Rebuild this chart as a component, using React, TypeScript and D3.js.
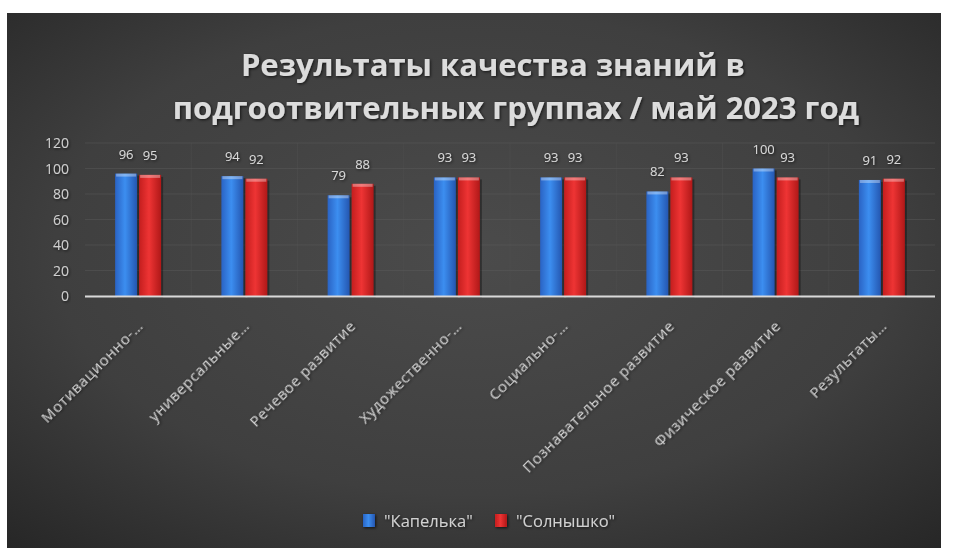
import React from "react";
import * as d3 from "d3";

const categories = [
  "Мотивационно-…",
  "универсальные…",
  "Речевое развитие",
  "Художественно-…",
  "Социально-…",
  "Познавательное развитие",
  "Физическое развитие",
  "Результаты…",
];
const seriesNames = ["\"Капелька\"", "\"Солнышко\""];
const kapelka = [96, 94, 79, 93, 93, 82, 100, 91];
const solnyshko = [95, 92, 88, 93, 93, 93, 93, 92];
const yTicks = [0, 20, 40, 60, 80, 100, 120];

const W = 953;
const H = 548;

export default function App() {
  const x = d3.scaleBand<string>().domain(categories).range([85, 935]);
  const y = d3.scaleLinear().domain([0, 120]).range([296, 143]);
  const barW = 22;
  const gap = 2;
  const series = [kapelka, solnyshko];
  const grads = ["gBlue", "gRed"];
  const font = "'Open Sans', 'DejaVu Sans', sans-serif";

  return (
    <div style={{ position: "absolute", left: 0, top: 0, background: "#fff" }}>
      <svg width={W} height={H} style={{ display: "block" }}>
        <defs>
          <radialGradient id="bg" cx="0.5" cy="0.45" r="0.75">
            <stop offset="0" stopColor="#4b4b4b" />
            <stop offset="0.6" stopColor="#3f3f3f" />
            <stop offset="1" stopColor="#262626" />
          </radialGradient>
          <linearGradient id="gBlue" x1="0" x2="1" y1="0" y2="0">
            <stop offset="0" stopColor="#2a63c4" />
            <stop offset="0.45" stopColor="#3c8ef0" />
            <stop offset="1" stopColor="#2456b0" />
          </linearGradient>
          <linearGradient id="gRed" x1="0" x2="1" y1="0" y2="0">
            <stop offset="0" stopColor="#c41e1e" />
            <stop offset="0.45" stopColor="#ee3434" />
            <stop offset="1" stopColor="#b01818" />
          </linearGradient>
          <filter id="glow" x="-20%" y="-20%" width="140%" height="140%">
            <feGaussianBlur in="SourceAlpha" stdDeviation="1.5" />
            <feOffset dx="1" dy="1" result="b" />
            <feFlood floodColor="#000" floodOpacity="0.7" />
            <feComposite in2="b" operator="in" />
            <feMerge>
              <feMergeNode />
              <feMergeNode in="SourceGraphic" />
            </feMerge>
          </filter>
        </defs>
        <rect x={0} y={0} width={W} height={H} fill="#fff" />
        <rect x={7} y={13} width={934} height={H - 13} fill="url(#bg)" />

        {/* Title */}
        <g filter="url(#glow)" fill="#dcdcdc" fontFamily={font} fontWeight="bold" fontSize={31} textAnchor="middle">
          <text x={493} y={76}>Результаты качества знаний в</text>
          <text x={516} y={119}>подгоотвительных группах / май 2023 год</text>
        </g>

        {/* gridlines */}
        {yTicks.map((t) => (
          <line key={"g" + t} x1={85} x2={935} y1={y(t)} y2={y(t)} stroke="#5a5a5a" strokeWidth={0.8} opacity={0.6} />
        ))}
        {categories.map((c, i) =>
          i === 0 ? null : (
            <line key={"v" + c} x1={x(c)!} x2={x(c)!} y1={143} y2={296} stroke="#555" strokeWidth={0.6} opacity={0.5} />
          )
        )}

        {/* y tick labels */}
        {yTicks.map((t) => (
          <text key={"t" + t} x={69} y={y(t) + 5} fill="#cfcfcf" fontFamily={font} fontSize={14} textAnchor="end" filter="url(#glow)">
            {t}
          </text>
        ))}

        {/* bars */}
        {categories.map((c, i) => {
          const cx = x(c)! + x.bandwidth() / 2;
          return series.map((s, k) => {
            const bx = k === 0 ? cx - gap / 2 - barW : cx + gap / 2;
            const top = y(s[i]);
            return (
              <g key={c + k}>
                <rect x={bx + 2} y={top + 2} width={barW} height={296 - top} fill="#000" opacity={0.35} />
                <rect x={bx} y={top} width={barW} height={296 - top} fill={`url(#${grads[k]})`} />
                <rect x={bx + 1} y={top} width={barW - 2} height={3} fill="#fff" opacity={0.35} />
                <text x={bx + barW / 2} y={top - 15} fill="#d8d8d8" fontFamily={font} fontSize={13} textAnchor="middle" filter="url(#glow)">
                  {s[i]}
                </text>
              </g>
            );
          });
        })}

        {/* axis line */}
        <line x1={85} x2={935} y1={296.5} y2={296.5} stroke="#d9d9d9" strokeWidth={2} />

        {/* category labels */}
        {categories.map((c) => {
          const cx = x(c)! + x.bandwidth() / 2 + 6;
          return (
            <text
              key={"l" + c}
              transform={`translate(${cx},${327}) rotate(-45)`}
              fill="#d0d0d0"
              fontFamily={font}
              fontSize={15}
              letterSpacing={0.6}
              textAnchor="end"
              filter="url(#glow)"
            >
              {c}
            </text>
          );
        })}

        {/* legend */}
        {seriesNames.map((n, k) => {
          const lx = k === 0 ? 363 : 495;
          return (
            <g key={n} filter="url(#glow)">
              <rect x={lx} y={514} width={12} height={13} fill={`url(#${grads[k]})`} />
              <text x={lx + 21} y={527} fill="#d0d0d0" fontFamily={font} fontSize={16.5}>
                {n}
              </text>
            </g>
          );
        })}
      </svg>
    </div>
  );
}
